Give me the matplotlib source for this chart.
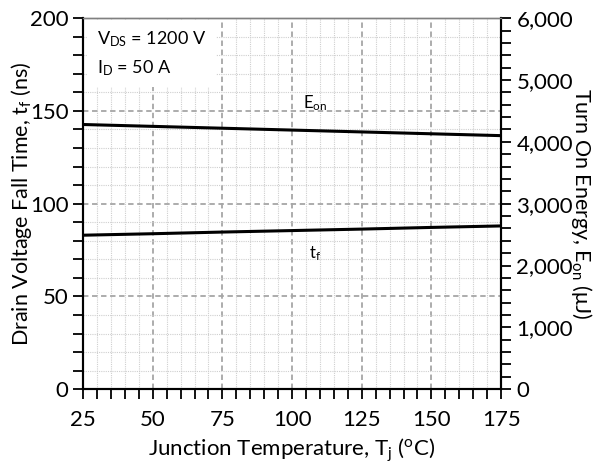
import matplotlib
matplotlib.use('Agg')
import matplotlib.pyplot as plt
from matplotlib.ticker import MultipleLocator, FuncFormatter

plt.rcParams['font.family'] = ['Lato', 'DejaVu Sans']
plt.rcParams['mathtext.fontset'] = 'custom'
plt.rcParams['mathtext.rm'] = 'Lato'
plt.rcParams['mathtext.it'] = 'Lato'

# 데이터
temp = [25, 50, 75, 100, 125, 150, 175]
tf_ns = [83.0, 83.8, 84.7, 85.5, 86.3, 87.2, 88.0]
eon_uj = [4280, 4250, 4220, 4190, 4160, 4130, 4100]

fig, ax = plt.subplots(figsize=(5.93, 4.65), dpi=100)
fig.subplots_adjust(left=0.14, right=0.845, top=0.961, bottom=0.163)
ax2 = ax.twinx()

ax.plot(temp, tf_ns, color='black', linewidth=2.2, zorder=3)
ax2.plot(temp, eon_uj, color='black', linewidth=2.2, zorder=3)

ax.set_xlim(25, 175)
ax.set_ylim(0, 200)
ax2.set_ylim(0, 6000)

ax.xaxis.set_major_locator(MultipleLocator(25))
ax.xaxis.set_minor_locator(MultipleLocator(5))
ax.yaxis.set_major_locator(MultipleLocator(50))
ax.yaxis.set_minor_locator(MultipleLocator(10))
ax2.yaxis.set_major_locator(MultipleLocator(1000))
ax2.yaxis.set_minor_locator(MultipleLocator(200))
ax2.yaxis.set_major_formatter(FuncFormatter(lambda v, p: f'{int(v):,}'))

ax.grid(which='major', color='#a6a6a6', linestyle=(0, (3, 2)), linewidth=1.3)
ax.grid(which='minor', color='#cfcfcf', linestyle=(0, (1, 1)), linewidth=0.8)
ax.set_axisbelow(True)

for a in (ax, ax2):
    a.tick_params(which='major', direction='out', length=7, width=1.3, labelsize=16, colors='black')
    a.tick_params(which='minor', direction='out', length=7, width=1.3)
    a.spines['top'].set_color('#808080')
    a.spines['top'].set_linewidth(1.0)
    for s in ('left', 'right', 'bottom'):
        a.spines[s].set_linewidth(1.5)
ax.tick_params(axis='x', pad=8)
ax2.tick_params(axis='y', pad=4)

ax.set_xlabel(r'Junction Temperature, T$_\mathregular{j}$ ($^\mathregular{o}$C)', fontsize=16, labelpad=5)
ax.set_ylabel(r'Drain Voltage Fall Time, t$_\mathregular{f}$ (ns)', fontsize=15.5, va='center')
ax.yaxis.set_label_coords(-0.148, 0.5)
ax2.set_ylabel(r'Turn On Energy, E$_\mathregular{on}$ ($\mathregular{\mu}$J)', fontsize=15.5,
               rotation=-90, va='center')
ax2.yaxis.set_label_coords(1.192, 0.5)

ax.text(30, 194, 'V$_\\mathregular{DS}$ = 1200 V\nI$_\\mathregular{D}$ = 50 A', fontsize=13,
        linespacing=1.6, va='top', ha='left', zorder=4,
        bbox=dict(facecolor='white', edgecolor='none', pad=7))
ax.text(104, 154, 'E$_\\mathregular{on}$', fontsize=12, ha='left', va='center', zorder=4)
ax.text(106, 73, 't$_\\mathregular{f}$', fontsize=12, ha='left', va='center', zorder=4)

fig.savefig('out.png', dpi=100)
